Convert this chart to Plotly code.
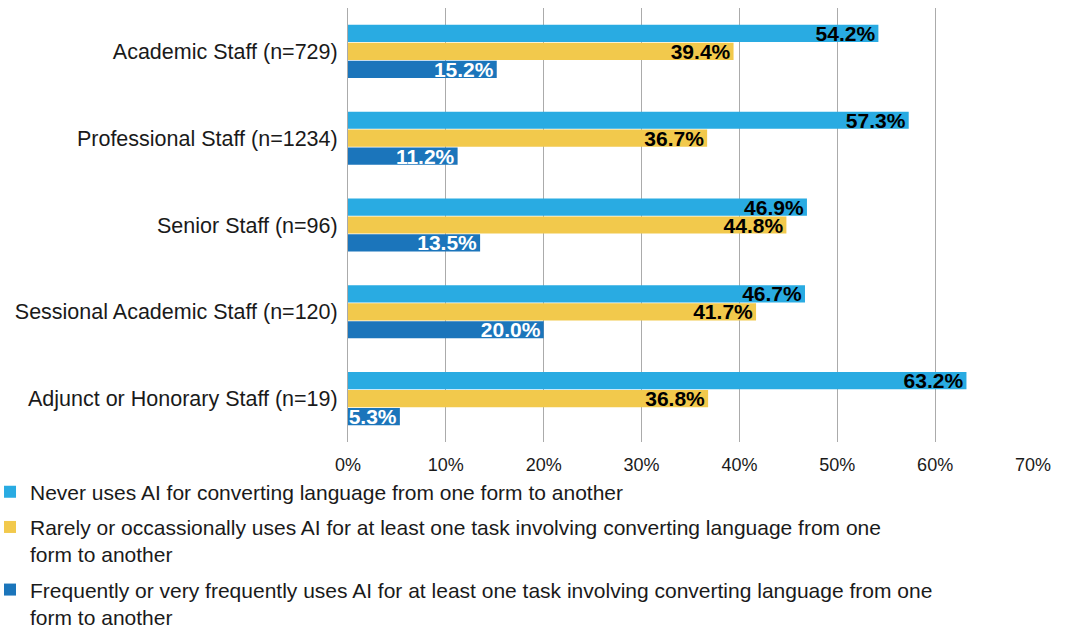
import plotly.graph_objects as go

categories = [
    "Academic Staff (n=729)",
    "Professional Staff (n=1234)",
    "Senior Staff (n=96)",
    "Sessional Academic Staff (n=120)",
    "Adjunct or Honorary Staff (n=19)",
]

never = [54.2, 57.3, 46.9, 46.7, 63.2]
rarely = [39.4, 36.7, 44.8, 41.7, 36.8]
frequently = [15.2, 11.2, 13.5, 20.0, 5.3]

series_names = [
    "Never uses AI for converting language from one form to another",
    "Rarely or occassionally uses AI for at least one task involving converting language from one<br>form to another",
    "Frequently or very frequently uses AI for at least one task involving converting language from one<br>form to another",
]
series_values = [never, rarely, frequently]
series_colors = ["#29ABE2", "#F2C94C", "#1B75BB"]
label_colors = ["black", "black", "white"]

tick_vals = [0, 10, 20, 30, 40, 50, 60, 70]
tick_text = ["0%", "10%", "20%", "30%", "40%", "50%", "60%", "70%"]

FONT = "Liberation Sans, Arial, Helvetica, sans-serif"

fig = go.Figure()
for name, vals, color, lcolor in zip(series_names, series_values, series_colors, label_colors):
    fig.add_trace(go.Bar(
        y=categories,
        x=vals,
        name=name,
        orientation="h",
        marker=dict(color=color, line=dict(width=0)),
        text=[f"{v:.1f}%" for v in vals],
        textposition="inside",
        insidetextanchor="end",
        constraintext="none",
        textangle=0,
        textfont=dict(family=FONT, size=21, color=lcolor, weight="bold"),
        legendgroup=name,
    ))

fig.update_layout(
    width=1065,
    height=631,
    barmode="group",
    bargap=0.38,
    bargroupgap=0.04,
    plot_bgcolor="white",
    paper_bgcolor="white",
    font=dict(family=FONT, color="#1a1a1a"),
    margin=dict(l=348, r=32, t=8, b=189, autoexpand=False),
    showlegend=True,
    legend=dict(
        orientation="v",
        x=-0.5226,
        xanchor="left",
        y=-0.068,
        yanchor="top",
        font=dict(family=FONT, size=21, color="#1a1a1a"),
        valign="top",
        tracegroupgap=5,
        itemwidth=30,
        bgcolor="rgba(0,0,0,0)",
    ),
    xaxis=dict(
        range=[0, 70],
        tickvals=tick_vals,
        ticktext=tick_text,
        showgrid=True,
        gridcolor="#ABABAB",
        gridwidth=1,
        zeroline=False,
        showline=False,
        ticks="",
        ticklabelstandoff=10,
        tickfont=dict(family=FONT, size=18, color="#1a1a1a"),
        fixedrange=True,
    ),
    yaxis=dict(
        autorange="reversed",
        showline=True,
        linecolor="#ABABAB",
        linewidth=1,
        ticks="",
        ticklabelstandoff=5,
        tickfont=dict(family=FONT, size=21.5, color="#1a1a1a"),
        showgrid=False,
        fixedrange=True,
    ),
)

fig.write_html("out.html")
